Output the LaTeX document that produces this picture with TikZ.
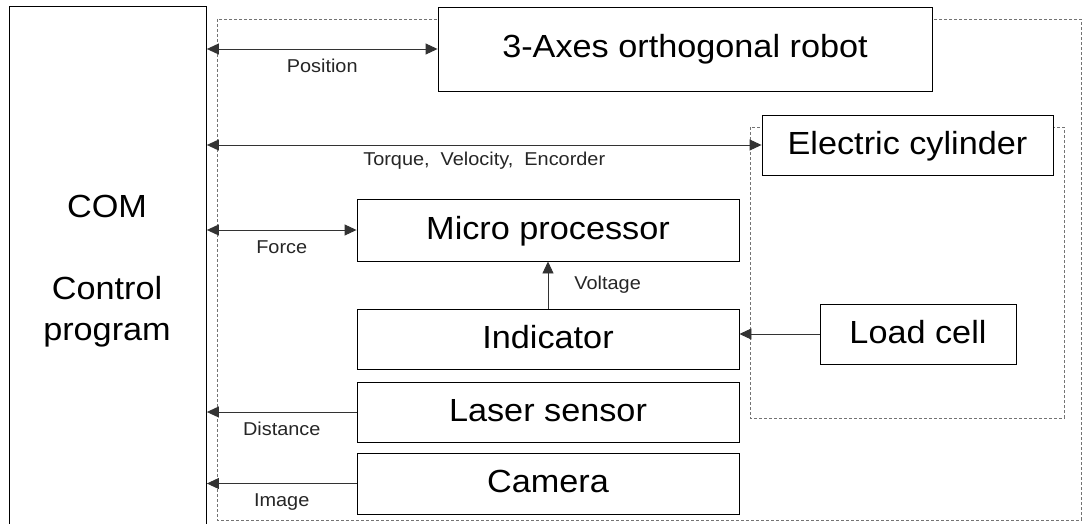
\documentclass[tikz,border=0pt]{standalone}
\usepackage{fontspec}
\setmainfont[FakeStretch=1.07]{Liberation Sans}
\usetikzlibrary{arrows.meta}
\begin{document}
\begin{tikzpicture}[x=1pt,y=-1pt,
  box/.style={draw=black, line width=0.9pt, fill=white, inner sep=0pt,
    font=\fontsize{32}{38}\selectfont, text height=23pt, text depth=5pt},
  comtxt/.style={font=\fontsize{32}{38}\selectfont, inner sep=0pt, anchor=base},
  lbl/.style={font=\fontsize{18.6}{22}\selectfont, text=black!85, inner sep=0pt,
    text height=13.5pt, text depth=4pt},
  conn/.style={draw=black!80, line width=0.9pt},
  tip/.style={-{Triangle[length=12pt,width=11pt]}},
  dtip/.style={{Triangle[length=12pt,width=11pt]}-{Triangle[length=12pt,width=11pt]}},
  grp/.style={draw=black!55, line width=0.6pt, dash pattern=on 3pt off 2pt}]
\clip (0,0) rectangle (1083,524);
\fill[white] (0,0) rectangle (1083,524);
% dashed groups
\draw[grp] (217,19) rectangle (1081,520);
\draw[grp] (750,127) rectangle (1064,418);
% boxes
\node[box, minimum width=197pt, minimum height=560pt, anchor=north west] (com) at (9,6) {};
\node[comtxt] (tcom) at (107,217) {COM};
\node[comtxt] (tctrl) at (107,299) {Control};
\node[comtxt] (tprog) at (107,340) {program};
\node[box, minimum width=494pt, minimum height=84pt] (robot) at (685,49) {3-Axes orthogonal robot};
\node[box, minimum width=291pt, minimum height=60pt] (cyl) at (907.5,145) {Electric cylinder};
\node[box, minimum width=382pt, minimum height=62pt] (micro) at (548,230) {Micro processor};
\node[box, minimum width=382pt, minimum height=60pt] (ind) at (548,339) {Indicator};
\node[box, minimum width=382pt, minimum height=60pt] (laser) at (548,412) {Laser sensor};
\node[box, minimum width=382pt, minimum height=61pt] (cam) at (548,483.5) {Camera};
\node[box, minimum width=196pt, minimum height=60pt] (load) at (918,334) {Load cell};
% connectors
\draw[conn,dtip] (com.east |- robot.west) -- node[lbl, below=10pt] (lpos) {Position} (robot.west);
\draw[conn,dtip] (com.east |- cyl.west) -- node[lbl, below=7pt] (ltrq) {Torque,\ \ Velocity,\ \ Encorder} (cyl.west);
\draw[conn,dtip] (com.east |- micro.west) -- node[lbl, below=10pt] (lforce) {Force} (micro.west);
\draw[conn,tip] (ind.north) -- node[lbl, right=26pt] (lvolt) {Voltage} (micro.south);
\draw[conn,tip] (load.west) -- (load.west -| ind.east);
\draw[conn,tip] (laser.west) -- node[lbl, below=10pt] (ldist) {Distance} (laser.west -| com.east);
\draw[conn,tip] (cam.west) -- node[lbl, below=9pt] (limg) {Image} (cam.west -| com.east);
\end{tikzpicture}
\end{document}
